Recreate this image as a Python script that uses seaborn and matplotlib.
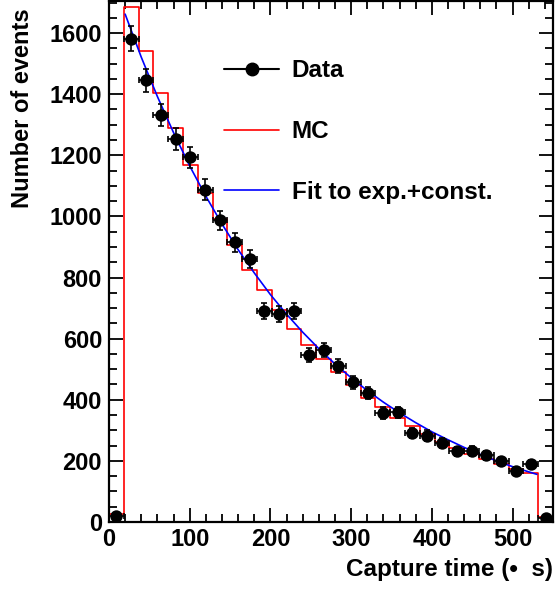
import numpy as np
import pandas as pd
import seaborn as sns
import matplotlib
matplotlib.use("Agg")
import matplotlib.pyplot as plt
from matplotlib.lines import Line2D
from matplotlib.ticker import MultipleLocator

# ---- data ----
bin_edges = list(np.linspace(0, 550, 31))          # 30 bins of ~18.3 us
data_counts = [20, 1582, 1446, 1333, 1254, 1193, 1088, 988, 915, 861,
               692, 680, 691, 546, 563, 510, 458, 422, 356, 359,
               291, 283, 258, 231, 232, 218, 199, 166, 189, 13]
data_errors = [4.5, 40, 38, 36.5, 35.4, 34.5, 33, 31.4, 30.2, 29.3,
               26.3, 26.1, 26.3, 23.4, 23.7, 22.6, 21.4, 20.5, 18.9, 18.9,
               17.1, 16.8, 16.1, 15.2, 15.2, 14.8, 14.1, 12.9, 13.7, 3.6]
mc_counts = [25, 1684, 1541, 1403, 1289, 1168, 1077, 990, 905, 826,
             760, 694, 632, 579, 532, 490, 447, 407, 376, 341,
             313, 289, 262, 242, 224, 207, 191, 175, 160, 16]
fit_time = [20, 40, 60, 80, 100, 120, 140, 160, 180, 200, 220, 240, 260,
            280, 300, 320, 340, 360, 380, 400, 420, 440, 460, 480, 500,
            520, 530]
fit_value = [1662, 1521, 1392, 1274, 1165, 1066, 975, 891, 815, 744, 680,
             621, 567, 517, 472, 430, 392, 357, 325, 295, 269, 244, 221,
             200, 181, 164, 156]
legend_labels = ["Data", "MC", "Fit to exp.+const."]
x_label = "Capture time (\u2022  s)"
y_label = "Number of events"

edges = np.array(bin_edges)
centers = 0.5 * (edges[:-1] + edges[1:])
half_w = 0.5 * (edges[1] - edges[0])
df = pd.DataFrame({"t": centers, "n": data_counts, "err": data_errors, "mc": mc_counts})
fit_df = pd.DataFrame({"t": fit_time, "f": fit_value})

sns.set_theme(style="ticks")
plt.rcParams["font.family"] = ["Liberation Sans", "DejaVu Sans"]
plt.rcParams["font.weight"] = "bold"
plt.rcParams["axes.labelweight"] = "bold"
plt.rcParams["text.color"] = "black"
plt.rcParams["axes.labelcolor"] = "black"
plt.rcParams["xtick.color"] = "black"
plt.rcParams["ytick.color"] = "black"

fig = plt.figure(figsize=(5.55, 5.89), dpi=100)
ax = fig.add_axes([109 / 555, 1 - 522 / 589, 444 / 555, 521 / 589])

# MC histogram
sns.histplot(x=df["t"], weights=df["mc"], bins=bin_edges, element="step",
             fill=False, color="#ff0000", linewidth=1.2, ax=ax)
# fit
sns.lineplot(data=fit_df, x="t", y="f", color="#0000ff", linewidth=1.2, ax=ax)
# data
ax.errorbar(df["t"], df["n"], yerr=df["err"], xerr=half_w, fmt="none",
            ecolor="black", elinewidth=1.2, capsize=2.5, capthick=1.2, zorder=4)
sns.scatterplot(data=df, x="t", y="n", color="black", s=80, edgecolor="black",
                linewidth=0, ax=ax, zorder=5)

ax.set_xlim(0, 550)
ax.set_ylim(0, 1705)
ax.xaxis.set_major_locator(MultipleLocator(100))
ax.xaxis.set_minor_locator(MultipleLocator(20))
ax.yaxis.set_major_locator(MultipleLocator(200))
ax.yaxis.set_minor_locator(MultipleLocator(50))
ax.tick_params(which="both", direction="in", top=True, right=True,
               labelsize=17, width=1.3, color="black", labelcolor="black")
ax.tick_params(which="major", length=10, pad=5)
ax.tick_params(which="minor", length=5.5)
ax.tick_params(axis="x", which="major", pad=4)
for lab in ax.get_xticklabels() + ax.get_yticklabels():
    lab.set_fontweight("bold")
for sp in ax.spines.values():
    sp.set_linewidth(1.6)
    sp.set_color("black")

ax.set_xlabel(x_label, fontsize=17.5, fontweight="bold", loc="right", color="black")
ax.set_ylabel(y_label, fontsize=17, fontweight="bold", loc="top", color="black")
ax.xaxis.set_label_coords(1.0, -0.07)
ax.yaxis.set_label_coords(-0.168, 0.985)

handles = [
    Line2D([0], [0], color="black", lw=1.5, marker="o", markersize=9),
    Line2D([0], [0], color="#ff0000", lw=1.2),
    Line2D([0], [0], color="#0000ff", lw=1.2),
]
leg = ax.legend(handles, legend_labels, loc="upper left",
                bbox_to_anchor=(0.258, 0.888), frameon=False, fontsize=17.5,
                handlelength=2.3, handletextpad=0.5, labelspacing=1.55,
                borderpad=0, borderaxespad=0, numpoints=1)
for t in leg.get_texts():
    t.set_fontweight("bold")
    t.set_color("black")

fig.savefig("out.png", dpi=100)
